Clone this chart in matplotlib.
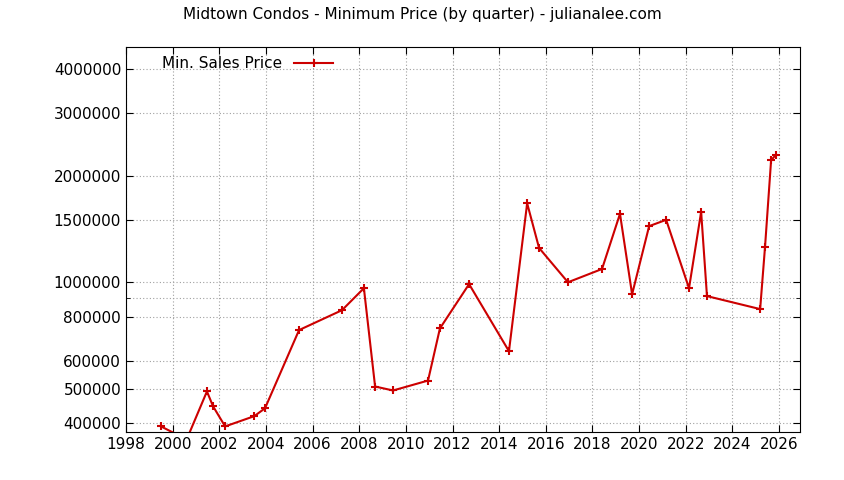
import matplotlib
matplotlib.use("Agg")
import matplotlib.pyplot as plt
from matplotlib.ticker import FixedLocator, NullLocator

# quarter (decimal year) and minimum sale price
years = [1999.5, 2000.6, 2001.47, 2001.73, 2002.25, 2003.5, 2003.96, 2005.42,
         2007.26, 2008.2, 2008.68, 2009.45, 2010.95, 2011.46, 2012.71, 2014.42,
         2015.2, 2015.71, 2016.95, 2018.41, 2019.18, 2019.7, 2020.43, 2021.16,
         2022.14, 2022.66, 2022.91, 2025.19, 2025.4, 2025.66, 2025.87]
prices = [392000, 360000, 492000, 447000, 392000, 419000, 441000, 733000,
          834000, 962000, 508000, 495000, 528000, 741000, 988000, 639000,
          1670000, 1250000, 1000000, 1090000, 1560000, 925000, 1440000, 1500000,
          962000, 1580000, 914000, 840000, 1260000, 2210000, 2290000]

y_ticks = [400000, 500000, 600000, 800000, 1000000, 1500000, 2000000, 3000000, 4000000]
grid_extra = [900000]
x_ticks = list(range(1998, 2027, 2))

fig = plt.figure(figsize=(8.44, 4.8), dpi=100)
ax = fig.add_axes([0.1493, 0.1, 0.7986, 0.802])
ax.plot(years, prices, color="#cc0000", lw=1.5, marker="+", ms=6, mew=1.5,
        label="Min. Sales Price")
ax.set_yscale("log")
ax.set_ylim(378000, 4610000)
ax.set_xlim(1998, 2026.9)
ax.yaxis.set_major_locator(FixedLocator(y_ticks))
ax.yaxis.set_minor_locator(FixedLocator(grid_extra))
ax.yaxis.set_major_formatter(matplotlib.ticker.FuncFormatter(lambda v, p: f"{int(v)}"))
ax.yaxis.set_minor_formatter(matplotlib.ticker.NullFormatter())
ax.xaxis.set_major_locator(FixedLocator(x_ticks))
ax.xaxis.set_minor_locator(NullLocator())
ax.grid(True, which="both", color="#a0a0a0", ls=(0, (1, 2)), lw=0.8)
ax.tick_params(labelsize=11, direction="in", length=5, top=True, right=True)
ax.tick_params(which="minor", direction="in", length=3, right=True)
for s in ax.spines.values():
    s.set_linewidth(0.8)
fig.suptitle("Midtown Condos - Minimum Price (by quarter) - julianalee.com",
             y=0.985, fontsize=11)
ax.legend(loc="upper left", frameon=False, markerfirst=False, fontsize=11,
          handlelength=2.5, borderaxespad=0.2, bbox_to_anchor=(0.04, 1.0))
fig.savefig("out.png", dpi=100)
